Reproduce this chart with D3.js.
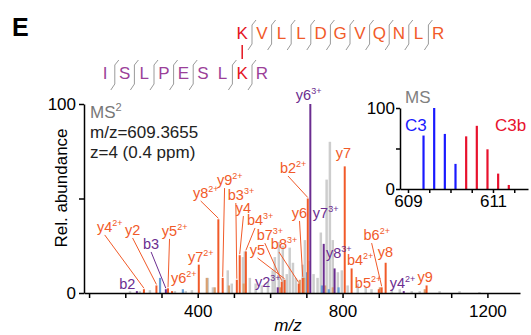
<!DOCTYPE html>
<html>
<head>
<meta charset="utf-8">
<script src="https://cdn.jsdelivr.net/npm/d3@7"></script>
<style>
  body { margin: 0; background: #fff; }
  svg { font-family: "Liberation Sans", Arial, sans-serif; }
</style>
</head>
<body>
<div id="chart"></div>
<script>
// ---- data ----
// cross-linked peptides
const alphaSeq = ["K", "V", "L", "L", "D", "G", "V", "Q", "N", "L", "R"];
const betaSeq = ["I", "S", "L", "P", "E", "S", "L", "K", "R"];
const alphaCuts = [0, 1, 2, 3, 4, 5, 6, 7, 8, 9];   // cleavage after residue i
const betaCuts = [0, 1, 2, 3, 4, 6, 7];
const alphaLink = 0;   // K in alpha
const betaLink = 7;    // K in beta

// annotated fragment ions
const ionNames = ["b2", "y4", "y2", "b3", "y5", "y6", "y7", "y8", "y9", "b3", "y4", "b4", "y2", "b7", "y5", "b8", "y6", "b2", "y6", "y7", "y8", "y7", "b4", "b5", "b6", "y8", "y4", "y9"];
const ionCharges = ["", "2+", "", "", "2+", "2+", "2+", "2+", "2+", "3+", "", "3+", "3+", "3+", "", "3+", "", "2+", "3+", "3+", "3+", "", "2+", "2+", "2+", "", "2+", ""];
const ionPeptide = ["beta", "alpha", "alpha", "beta", "alpha", "alpha", "alpha", "alpha", "alpha", "alpha", "alpha", "alpha", "beta", "alpha", "alpha", "alpha", "alpha", "alpha", "beta", "beta", "beta", "alpha", "alpha", "alpha", "alpha", "alpha", "beta", "alpha"];
const ionMz = [232, 251.5, 286, 312, 318, 329, 403, 457, 469, 508, 516, 533, 621, 632, 640, 679, 690, 704, 711, 748, 778, 806, 825, 900, 908, 919, 969, 1032];
const ionIntensity = [1, 2, 4, 2, 2.5, 1, 15, 39, 8, 7, 20, 22, 3, 6, 7, 5, 8, 50, 100, 26, 13, 67, 13, 2, 3, 16, 1, 4];
// where each label sits (m/z, rel. abundance of its baseline start)
const labelMz = [183, 122, 199, 249, 301, 326, 373, 387, 453, 483, 505, 536, 558, 563, 544, 602, 660, 627, 671, 718, 754, 781, 812, 834, 858, 897, 930, 1007];
const labelIntensity = [2.1, 32.3, 30.7, 23.3, 30.2, 5.3, 16.4, 50.3, 57.1, 49.2, 42.3, 36, 3.2, 28, 20.1, 23.3, 39.7, 63.5, 102, 39.7, 18.5, 71.4, 14.8, 2.6, 28, 19, 2.6, 5.8];
const hasLeader = [0, 1, 1, 1, 1, 0, 0, 1, 1, 1, 1, 1, 0, 1, 1, 1, 1, 1, 0, 0, 0, 0, 0, 0, 1, 0, 0, 0];

// unassigned peaks
const grayMz = [213, 240, 268, 337, 367, 384, 428, 442, 483, 494, 525, 530, 544, 560, 577, 594, 607, 613, 624, 635, 646, 654, 663, 671, 690, 696, 706, 720, 731, 740, 756, 765, 773, 787, 798, 814, 842, 864, 880, 936, 958, 991, 1013, 1068, 1123, 1178];
const grayIntensity = [1, 1, 1.5, 1, 1, 1.5, 8, 3, 12, 5, 19, 22, 8, 5, 4, 6, 12, 19, 27, 25, 10, 24, 16, 8, 15, 28, 17, 10, 8, 32, 60, 80, 28, 11, 12, 4, 5, 3, 2, 2, 2, 1, 1, 1, 1, 0.5];
const tanMz = [425, 447, 486, 527, 627, 682, 694, 752, 773, 903, 1027];
const tanIntensity = [8, 3, 4, 5, 3, 7, 8, 4, 3, 3, 2];
const blueMz = [296, 359, 702, 743, 762, 789];
const blueIntensity = [8, 2, 11, 4, 2, 3];

// precursor isotope envelope (inset)
const c3Mz = [609.3655, 609.6163, 609.8672, 610.1180];
const c3Intensity = [66, 100, 68, 31];
const c3bMz = [610.3689, 610.6197, 610.8706, 611.1214, 611.3722];
const c3bIntensity = [65, 78, 49, 19, 5];

const xTickValues = d3.range(100, 1300, 100);
const xTickLabels = [400, 800, 1200];
const yTickValues = [0, 50, 100];
const yTickLabels = [0, 100];
const insetXTicks = [609, 609.5, 610, 610.5, 611, 611.5];
const insetXLabels = [609, 611];

// ---- colours ----
const orange = "#f15a29";
const purple = "#6b2d90";
const magenta = "#9b3f99";
const linkRed = "#e4151f";

const W = 531, H = 335;
const svg = d3.select("#chart").append("svg")
  .attr("width", W)
  .attr("height", H);

// panel letter
svg.append("text")
  .attr("x", 12).attr("y", 36)
  .attr("font-size", 25).attr("font-weight", "bold")
  .text("E");

// ---- peptide sequence header ----
const res = d3.scaleLinear().domain([0, 1]).range([105, 124.6]);
const alphaBase = 39, betaBase = 79;
const alphaOff = betaLink - alphaLink;

function fragMark(g, cx, base) {
  g.append("path")
    .attr("d", `M${cx + 4},${base - 19}L${cx},${base - 14}L${cx},${base + 5}L${cx - 4},${base + 11}`)
    .attr("fill", "none").attr("stroke", "#9a9a9a").attr("stroke-width", 1);
}
const seqG = svg.append("g");
seqG.selectAll(".alpha").data(alphaSeq).join("text")
  .attr("class", "alpha")
  .attr("x", (d, i) => res(i + alphaOff)).attr("y", alphaBase)
  .attr("text-anchor", "middle").attr("font-size", 17)
  .attr("fill", (d, i) => i === alphaLink ? linkRed : orange)
  .text(d => d);
seqG.selectAll(".beta").data(betaSeq).join("text")
  .attr("class", "beta")
  .attr("x", (d, i) => res(i)).attr("y", betaBase)
  .attr("text-anchor", "middle").attr("font-size", 17)
  .attr("fill", (d, i) => i === betaLink ? linkRed : magenta)
  .text(d => d);
alphaCuts.forEach(i => fragMark(seqG, res(i + alphaOff + 0.5), alphaBase));
betaCuts.forEach(i => fragMark(seqG, res(i + 0.5), betaBase));
seqG.append("line")
  .attr("x1", res(betaLink)).attr("x2", res(betaLink))
  .attr("y1", alphaBase + 6).attr("y2", betaBase - 20)
  .attr("stroke", linkRed).attr("stroke-width", 1.5);

// ---- main spectrum ----
const x = d3.scaleLinear().domain([86, 1290]).range([84, 520]);
const y = d3.scaleLinear().domain([0, 100]).range([293, 104]);

function drawPeaks(g, mzs, ints, color, width, sx, sy) {
  g.append("g").selectAll("line").data(d3.zip(mzs, ints)).join("line")
    .attr("x1", d => sx(d[0])).attr("x2", d => sx(d[0]))
    .attr("y1", sy(0)).attr("y2", d => sy(d[1]))
    .attr("stroke", color).attr("stroke-width", width);
}
const spec = svg.append("g");
drawPeaks(spec, grayMz, grayIntensity, "#cdcdcd", 2.5, x, y);
drawPeaks(spec, tanMz, tanIntensity, "#d9a070", 2.2, x, y);
drawPeaks(spec, blueMz, blueIntensity, "#6a9fd6", 2.2, x, y);

const ions = ionNames.map((n, i) => ({
  name: n, charge: ionCharges[i],
  color: ionPeptide[i] === "alpha" ? orange : purple,
  mz: ionMz[i], val: ionIntensity[i],
  lmz: labelMz[i], lval: labelIntensity[i], leader: hasLeader[i]
}));

spec.append("g").selectAll("line").data(ions).join("line")
  .attr("x1", d => x(d.mz)).attr("x2", d => x(d.mz))
  .attr("y1", y(0)).attr("y2", d => y(d.val))
  .attr("stroke", d => d.color).attr("stroke-width", 2);

const labG = svg.append("g");
const labs = labG.selectAll("text").data(ions).join("text")
  .attr("x", d => x(d.lmz)).attr("y", d => y(d.lval))
  .attr("font-size", 14.5)
  .attr("fill", d => d.color);
labs.append("tspan").attr("class", "main").text(d => d.name);
labs.filter(d => d.charge).append("tspan")
  .attr("font-size", 9).attr("dy", -6).text(d => d.charge);

// leader lines from label to peak top
labs.filter(d => d.leader).each(function(d) {
  const w = d3.select(this).select(".main").node().getComputedTextLength();
  labG.append("line")
    .attr("x1", x(d.lmz) + w / 2).attr("y1", y(d.lval) + 3)
    .attr("x2", x(d.mz)).attr("y2", y(d.val) - 1)
    .attr("stroke", d.color).attr("stroke-width", 1);
});

// axes
const xAxis = svg.append("g")
  .attr("transform", `translate(0,${y(0)})`)
  .call(d3.axisBottom(x).tickValues(xTickValues)
    .tickFormat(d => xTickLabels.includes(d) ? d : "")
    .tickSize(5).tickPadding(7).tickSizeOuter(0));
const yAxis = svg.append("g")
  .attr("transform", `translate(${x(86)},0)`)
  .call(d3.axisLeft(y).tickValues(yTickValues)
    .tickFormat(d => yTickLabels.includes(d) ? d : "")
    .tickSize(5).tickPadding(3).tickSizeOuter(0));
[xAxis, yAxis].forEach(a => {
  a.selectAll("path, line").attr("stroke", "#000").attr("stroke-width", 1.5);
  a.selectAll("text").attr("font-size", 17).attr("fill", "#000")
    .attr("font-family", "'Liberation Sans', Arial, sans-serif");
});

svg.append("text")
  .attr("x", 288).attr("y", 331)
  .attr("text-anchor", "middle").attr("font-size", 17).attr("font-style", "italic")
  .text("m/z");
svg.append("text")
  .attr("transform", "translate(67,188) rotate(-90)")
  .attr("text-anchor", "middle").attr("font-size", 17)
  .text("Rel. abundance");

// precursor info
const info = svg.append("g").attr("font-size", 17);
const ms2 = info.append("text").attr("x", 90).attr("y", 118).attr("fill", "#777");
ms2.append("tspan").text("MS");
ms2.append("tspan").attr("font-size", 11).attr("dy", -7).text("2");
info.append("text").attr("x", 90).attr("y", 138).attr("fill", "#222").text("m/z=609.3655");
info.append("text").attr("x", 90).attr("y", 158).attr("fill", "#222").text("z=4 (0.4 ppm)");

// ---- inset: precursor isotopes ----
const ix = d3.scaleLinear().domain([608.812, 611.824]).range([400, 528]);
const iy = d3.scaleLinear().domain([0, 100]).range([189, 108]);
const inset = svg.append("g");
drawPeaks(inset, c3Mz, c3Intensity, "#1a1aff", 2.2, ix, iy);
drawPeaks(inset, c3bMz, c3bIntensity, "#e8112d", 2.2, ix, iy);

const ixAxis = inset.append("g")
  .attr("transform", `translate(0,${iy(0)})`)
  .call(d3.axisBottom(ix).tickValues(insetXTicks)
    .tickFormat(d => insetXLabels.includes(d) ? d : "")
    .tickSize(4).tickPadding(2).tickSizeOuter(0));
const iyAxis = inset.append("g")
  .attr("transform", `translate(${ix(608.812)},0)`)
  .call(d3.axisLeft(iy).tickValues(yTickValues)
    .tickFormat(d => yTickLabels.includes(d) ? d : "")
    .tickSize(4).tickPadding(1).tickSizeOuter(0));
[ixAxis, iyAxis].forEach(a => {
  a.selectAll("path, line").attr("stroke", "#000").attr("stroke-width", 1.5);
  a.selectAll("text").attr("font-size", 17).attr("fill", "#000")
    .attr("font-family", "'Liberation Sans', Arial, sans-serif");
});

inset.append("text").attr("x", 405).attr("y", 103).attr("font-size", 17).attr("fill", "#808080").text("MS");
inset.append("text").attr("x", 405).attr("y", 131).attr("font-size", 17).attr("fill", "#1a1aff").text("C3");
inset.append("text").attr("x", 495).attr("y", 131).attr("font-size", 17).attr("fill", "#e8112d").text("C3b");
</script>
</body>
</html>
